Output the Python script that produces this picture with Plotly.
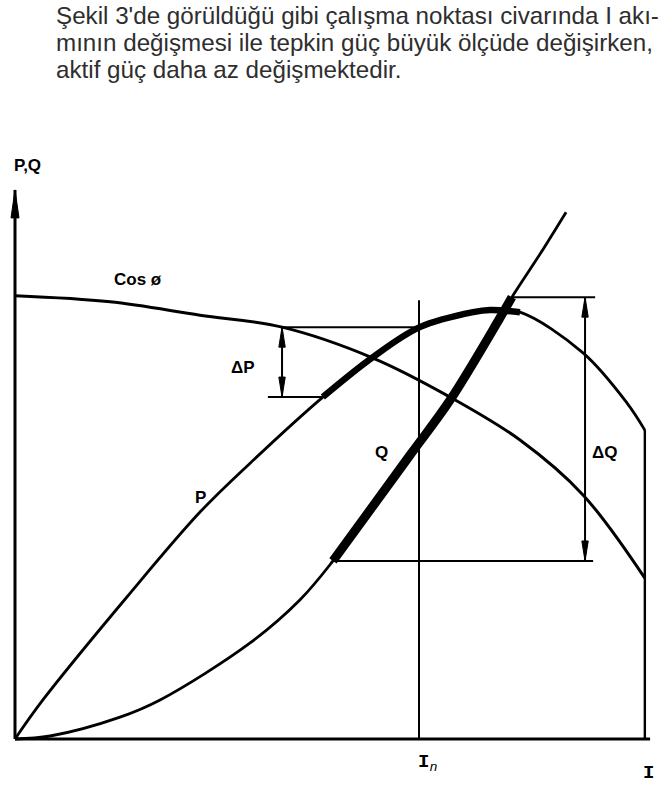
import plotly.graph_objects as go

# Current in units of the rated current I_n, powers in per unit of the P peak
I_P = [0, 0.069, 0.277, 0.458, 0.582, 0.762, 0.886, 1.002, 1.134, 1.176, 1.250, 1.406, 1.515, 1.559]
P = [0, 0.091, 0.331, 0.529, 0.643, 0.797, 0.890, 0.960, 0.995, 1.000, 0.995, 0.900, 0.783, 0.720]

I_Q = [0, 0.087, 0.260, 0.359, 0.582, 0.705, 0.787, 0.978, 1.077, 1.200, 1.230, 1.300, 1.364]
Q = [0, 0.007, 0.051, 0.091, 0.224, 0.324, 0.415, 0.662, 0.790, 0.981, 1.030, 1.131, 1.228]

I_COS = [0, 0.235, 0.458, 0.661, 0.886, 1.077, 1.250, 1.406, 1.559]
COS_PHI = [1.033, 1.019, 0.988, 0.960, 0.888, 0.797, 0.697, 0.569, 0.375]

I_N = 1.0
P_WORK = slice(5, 11)   # band of P around the operating point
Q_WORK = slice(6, 11)   # band of Q around the operating point

PARAGRAPH = [
    "Şekil 3'de görüldüğü gibi çalışma noktası civarında I akı-",
    "mının değişmesi ile tepkin güç büyük ölçüde değişirken,",
    "aktif güç daha az değişmektedir.",
]

# page geometry: pixels per data unit on each axis
W, H = 668, 785
SX, SY = 404.0, 429.0
X0_PX, Y0_PX = 15, 739
X_RANGE = [-X0_PX / SX, (W - X0_PX) / SX]
Y_RANGE = [-(H - Y0_PX) / SY, Y0_PX / SY]

INK = "black"
fig = go.Figure()


def line(x, y, width, shape="linear"):
    fig.add_trace(go.Scatter(
        x=x, y=y, mode="lines", hoverinfo="skip", showlegend=False,
        line=dict(color=INK, width=width, shape=shape, smoothing=1.0),
    ))


def head(x, y, up, half_w=3.2, length=20):
    """Narrow filled arrowhead with its tip at (x, y)."""
    dx = half_w / SX
    dy = length / SY * (-1 if up else 1)
    fig.add_shape(
        type="path", xref="x", yref="y",
        path=f"M {x},{y} L {x - dx},{y + dy} L {x + dx},{y + dy} Z",
        fillcolor=INK, line=dict(color=INK, width=1),
    )


# axes
i_last = I_P[-1]
line([0, 0], [0, 1.28], 3)
head(0, 1.28, up=True, half_w=4, length=28)
line([0, i_last + 0.013], [0, 0], 3)

# rated current and end-of-range verticals
line([I_N, I_N], [0, 1.023], 2)
line([i_last, i_last], [0, P[-1]], 2.4)

# curves
line(I_COS, COS_PHI, 3, "spline")
line(I_P, P, 2.8, "spline")
line(I_P[P_WORK], P[P_WORK], 6.5, "spline")
line(I_Q, Q, 2.8, "spline")
line(I_Q[Q_WORK], Q[Q_WORK], 9, "spline")

# ΔP construction
p_lo, p_hi = P[P_WORK][0], P[7]
x_dp = I_COS[3]
line([x_dp, I_N], [p_hi, p_hi], 2)
line([x_dp - 0.035, I_P[P_WORK][0]], [p_lo, p_lo], 2)
line([x_dp, x_dp], [p_lo, p_hi], 2)
head(x_dp, p_hi, up=True)
head(x_dp, p_lo, up=False)

# ΔQ construction
q_lo, q_hi = Q[Q_WORK][0], Q[Q_WORK][-1]
x_dq = 1.411
line([I_Q[Q_WORK][-1], x_dq + 0.025], [q_hi, q_hi], 2)
line([I_Q[Q_WORK][0], x_dq + 0.02], [q_lo, q_lo], 2)
line([x_dq, x_dq], [q_lo, q_hi], 2)
head(x_dq, q_hi, up=True)
head(x_dq, q_lo, up=False)

label_font = dict(family="Liberation Sans, Arial, sans-serif", size=17, color=INK)
labels = [
    ("<b>P,Q</b>", 0.032, 1.338),
    ("<b>Cos ø</b>", 0.305, 1.07),
    ("<b>ΔP</b>", 0.564, 0.865),
    ("<b>Q</b>", 0.908, 0.669),
    ("<b>P</b>", 0.458, 0.564),
    ("<b>ΔQ</b>", 1.460, 0.669),
]
for txt, x, y in labels:
    fig.add_annotation(x=x, y=y, text=txt, showarrow=False, font=label_font,
                       xanchor="center", yanchor="middle")

serif_font = dict(family="Liberation Mono, Courier New, monospace", size=19, color=INK)
fig.add_annotation(x=1.02, y=-0.056, text="<b>I</b><sub><i>n</i></sub>", showarrow=False,
                   font=serif_font, xanchor="center", yanchor="middle")
fig.add_annotation(x=1.567, y=-0.080, text="<b>I</b>", showarrow=False,
                   font=serif_font, xanchor="center", yanchor="middle")

text_font = dict(family="Liberation Sans, Arial, sans-serif", size=24.2, color="#2e2e2e")
for k, txt in enumerate(PARAGRAPH):
    fig.add_annotation(xref="paper", yref="paper", x=54 / W, y=1 - (16 + 27 * k) / H,
                       text=txt, showarrow=False, font=text_font,
                       xanchor="left", yanchor="middle", align="left")

fig.update_layout(
    width=W, height=H, autosize=False,
    margin=dict(l=0, r=0, t=0, b=0),
    paper_bgcolor="white", plot_bgcolor="white",
    xaxis=dict(range=X_RANGE, visible=False, fixedrange=True),
    yaxis=dict(range=Y_RANGE, visible=False, fixedrange=True),
    showlegend=False,
)

fig.write_html("out.html", config={"displayModeBar": False})
